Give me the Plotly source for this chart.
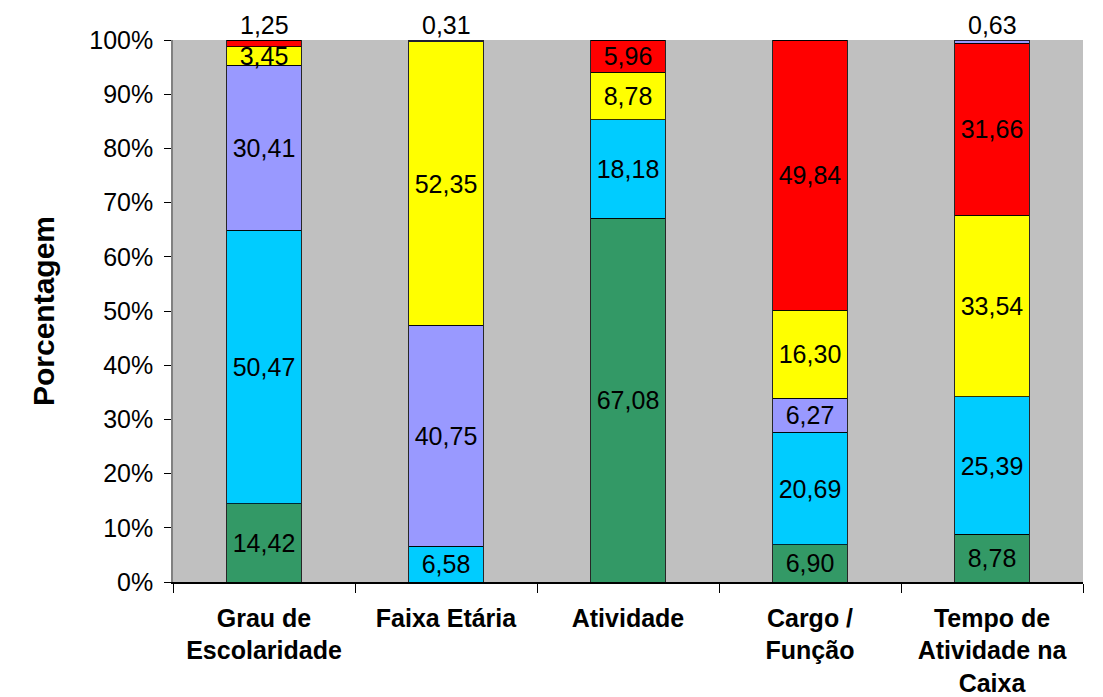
import plotly.graph_objects as go

categories = ["Grau de<br>Escolaridade", "Faixa Etária", "Atividade", "Cargo /<br>Função",
              "Tempo de<br>Atividade na<br>Caixa"]

s_green = [14.42, 0, 67.08, 6.90, 8.78]
s_cyan = [50.47, 6.58, 18.18, 20.69, 25.39]
s_lav = [30.41, 40.75, 0, 6.27, 0]
s_yellow = [3.45, 52.35, 8.78, 16.30, 33.54]
s_red = [1.25, 0, 5.96, 49.84, 31.66]
s_lav_top = [0, 0.31, 0, 0, 0.63]

y_ticks = list(range(0, 101, 10))
y_ticktext = ["%d%%" % t for t in y_ticks]

series = [
    (s_green, "#339966"),
    (s_cyan, "#00CCFF"),
    (s_lav, "#9999FF"),
    (s_yellow, "#FFFF00"),
    (s_red, "#FF0000"),
    (s_lav_top, "#9999FF"),
]

FONT = "Arial, Liberation Sans, sans-serif"
SMALL = 2.0
FS = 25

def fmt(v):
    return ("%.2f" % v).replace(".", ",")

fig = go.Figure()
annotations = []
for vals, color in series:
    texts = [fmt(v) if v >= SMALL else "" for v in vals]
    fig.add_trace(go.Bar(
        x=categories, y=vals, marker=dict(color=color, line=dict(color="#000000", width=0.8)),
        width=0.41, text=texts, textposition="inside", insidetextanchor="middle",
        textangle=0, textfont=dict(family=FONT, size=FS, color="#000000"),
        hoverinfo="skip", showlegend=False,
    ))
    for c, v in zip(categories, vals):
        if 0 < v < SMALL:
            annotations.append(dict(x=c, y=100, xref="x", yref="y", text=fmt(v),
                                    showarrow=False, yanchor="bottom", yshift=-1,
                                    font=dict(family=FONT, size=FS, color="#000000")))

fig.update_layout(
    barmode="stack",
    width=1095, height=689,
    margin=dict(l=165, r=20, t=32, b=115),
    paper_bgcolor="#FFFFFF",
    plot_bgcolor="#C0C0C0",
    uniformtext=dict(minsize=FS, mode="show"),
    annotations=annotations,
    font=dict(family=FONT, color="#000000"),
)
fig.update_yaxes(
    range=[0, 100], tickvals=y_ticks, ticktext=y_ticktext,
    ticks="outside", ticklen=7, tickcolor="#000000", showgrid=False, zeroline=False,
    showline=True, linecolor="#808080", linewidth=1.5, ticklabelstandoff=6,
    tickfont=dict(family=FONT, size=FS, color="#000000"), automargin=False,
    title=dict(text="<b>Porcentagem</b>", font=dict(family=FONT, size=30, color="#000000"), standoff=26),
)
fig.update_xaxes(
    tickson="boundaries", ticks="outside", ticklen=9, tickcolor="#000000",
    showline=True, linecolor="#000000", linewidth=1.5, showgrid=False, ticklabelstandoff=13,
    tickfont=dict(family=FONT, size=FS, color="#000000"), automargin=False,
    tickprefix="<b>", ticksuffix="</b>",
)
fig.update_traces(cliponaxis=False)

fig.write_html("out.html")
